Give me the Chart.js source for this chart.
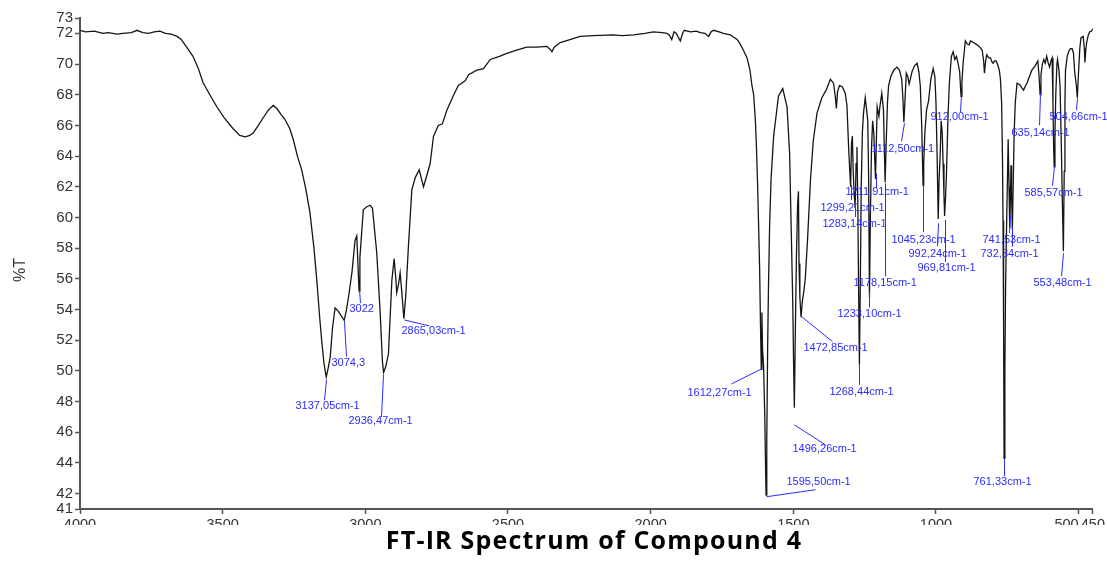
<!DOCTYPE html>
<html>
<head>
<meta charset="utf-8">
<title>FT-IR Spectrum of Compound 4</title>
<script src="https://cdn.jsdelivr.net/npm/chart.js@4.4.0/dist/chart.umd.min.js"></script>
<style>
  html, body { margin: 0; padding: 0; background: #fff; }
  #wrap { position: relative; width: 1107px; height: 562px; overflow: hidden; }
  #myChart { position: absolute; left: 0; top: 0; }
  #titulo {
    position: absolute; left: 594px; top: 527px; transform: translateX(-50%);
    white-space: nowrap; font-family: "Open Sans", sans-serif; font-weight: 700;
    font-size: 25px; line-height: 25px; letter-spacing: 1.2px; color: #000;
  }
</style>
</head>
<body>
<div id="wrap">
  <canvas id="myChart" width="1107" height="525"></canvas>
  <div id="titulo">FT-IR Spectrum of Compound 4</div>
</div>
<script>
// [wavenumber cm-1, %T], one array per region
const ohRegion = [
  [4000, 72.2], [3980, 72.1], [3950, 72.15], [3920, 72.0], [3900, 72.05], [3870, 71.95], [3850, 72.0],
  [3820, 72.05], [3800, 72.2], [3780, 72.05], [3760, 72.0], [3740, 72.1], [3720, 72.15], [3700, 72.0],
  [3680, 71.95], [3660, 71.8], [3645, 71.6], [3630, 71.2], [3604, 70.5], [3585, 69.7], [3569, 68.8],
  [3545, 68.0], [3520, 67.2], [3495, 66.5], [3464, 65.8], [3440, 65.35], [3421, 65.25], [3405, 65.35],
  [3393, 65.5], [3375, 66.0], [3358, 66.5], [3340, 67.0], [3323, 67.3], [3310, 67.1], [3295, 66.7],
  [3282, 66.4], [3265, 65.8], [3252, 65.05], [3238, 64.0], [3223, 63.1], [3208, 61.8], [3194, 60.3],
  [3180, 58.0], [3170, 55.9], [3160, 53.5], [3153, 52.0], [3145, 50.5], [3137, 49.6], [3130, 50.2],
  [3123, 50.9], [3115, 52.8], [3106, 54.1], [3095, 53.9], [3085, 53.6], [3074, 53.3], [3066, 54.0],
  [3059, 54.8], [3047, 56.4], [3036, 58.5], [3030, 58.8], [3026, 57.0], [3022, 55.2], [3019, 57.4],
  [3007, 60.5], [2995, 60.7], [2983, 60.8], [2975, 60.6], [2960, 57.7], [2948, 53.8], [2940, 50.6],
  [2936, 49.9], [2928, 50.3], [2919, 51.1], [2907, 55.9], [2899, 57.3], [2893, 56.0], [2890, 55.1],
  [2884, 55.6], [2878, 56.4], [2872, 55.1], [2865, 53.4], [2858, 55.0], [2849, 58.1], [2837, 61.8],
  [2825, 62.6], [2811, 63.1], [2803, 62.5], [2796, 62.0], [2785, 62.7], [2773, 63.5], [2761, 65.3],
  [2744, 66.0], [2730, 66.1], [2714, 67.0]
];

const midRegion = [
  [2690, 68.0], [2674, 68.6], [2650, 68.9], [2638, 69.3], [2609, 69.6], [2586, 69.7], [2562, 70.3],
  [2530, 70.5], [2504, 70.7], [2470, 70.9], [2434, 71.1], [2400, 71.1], [2364, 71.15], [2352, 70.95],
  [2346, 70.8], [2338, 71.1], [2317, 71.4], [2280, 71.6], [2247, 71.8], [2200, 71.85], [2130, 71.9],
  [2100, 71.85], [2060, 71.9], [2020, 72.0], [1990, 72.1], [1960, 72.05], [1943, 72.0], [1935, 71.9],
  [1926, 71.6], [1918, 72.1], [1910, 72.0], [1896, 71.5], [1888, 72.0], [1882, 72.2], [1860, 72.1],
  [1840, 72.15], [1826, 72.05], [1810, 72.0], [1797, 71.8], [1788, 72.1], [1779, 72.2], [1760, 72.1],
  [1745, 72.0], [1733, 71.95], [1720, 71.9], [1709, 71.75], [1697, 71.6], [1686, 71.3], [1675, 70.9],
  [1662, 70.4], [1652, 69.6], [1645, 68.6]
];

const fingerprintHigh = [
  [1639, 68.0], [1633, 66.35], [1629, 64.5], [1625, 62.0], [1621, 59.0], [1618, 56.6], [1615, 53.0],
  [1612.3, 50.1], [1610, 53.8], [1608, 51.5], [1604, 50.2], [1600, 47.0], [1597, 43.5], [1595.5, 41.9],
  [1593, 45.5], [1590, 51.5], [1587, 55.5], [1583, 59.5], [1578, 62.5], [1569, 65.3], [1552, 67.9],
  [1537, 68.4], [1522, 67.2], [1513, 64.2], [1508, 59.8], [1502, 54.5], [1499, 50.5], [1496.3, 47.6],
  [1493, 52.5], [1489, 57.5], [1485, 60.8], [1482, 61.7], [1480, 57.0], [1477, 54.8], [1472.9, 53.5],
  [1468, 54.6], [1463, 55.2], [1458, 56.0], [1450, 58.6], [1440, 62.4], [1430, 65.0], [1417, 66.8],
  [1400, 67.8], [1385, 68.3], [1370, 69.0], [1359, 68.75], [1353, 67.9], [1349, 67.1], [1345, 68.2],
  [1338, 68.6], [1328, 68.5], [1318, 68.1], [1312, 67.3], [1306, 64.5], [1302, 63.0], [1299.2, 62.0],
  [1296, 64.8], [1293, 65.3], [1290, 63.0], [1287, 61.6], [1283.1, 60.6], [1280, 63.5], [1277, 64.6],
  [1274, 61.0], [1271, 55.0], [1268.4, 50.4], [1265, 56.0], [1262, 62.0], [1258, 65.5], [1254, 66.8],
  [1248, 67.8], [1243, 67.0], [1239, 66.3], [1236, 62.5], [1233.1, 54.8], [1230, 60.0], [1226, 64.5],
  [1222, 66.3], [1218, 65.5], [1214, 63.5], [1211.9, 62.5], [1209, 65.0], [1206, 67.2], [1200, 66.6],
  [1196, 67.3], [1190, 68.1], [1184, 67.0], [1181, 64.5], [1178.2, 62.3], [1175, 64.5], [1170, 67.5],
  [1166, 68.6], [1158, 69.2], [1148, 69.6], [1137, 69.8], [1128, 69.6], [1120, 69.0], [1116, 67.8],
  [1112.5, 66.2], [1109, 67.5], [1104, 69.4], [1099, 69.2], [1094, 68.7], [1090, 69.0], [1084, 69.5],
  [1075, 69.9], [1066, 70.05], [1060, 69.5], [1055, 68.6], [1050, 66.0], [1047, 63.5], [1045.2, 62.1],
  [1043, 63.5], [1039, 65.5], [1033, 67.0], [1026, 67.6], [1018, 69.0], [1010, 69.7], [1004, 69.2]
];

const fingerprintLow = [
  [1000, 67.5], [996, 64.0], [992.2, 59.9], [989, 62.5], [985, 64.2], [982, 66.3], [978, 65.5],
  [975, 63.5], [972, 61.5], [969.8, 60.1], [966, 61.5], [963, 63.0], [958, 66.5], [953, 68.8],
  [946, 70.5], [940, 70.8], [934, 70.3], [928, 70.5], [922, 70.0], [917, 69.5], [914, 68.5],
  [912, 67.9], [909, 68.8], [905, 70.05], [897, 71.5], [890, 71.3], [884, 71.25], [879, 71.5],
  [868, 71.4], [856, 71.25], [846, 71.1], [838, 70.9], [833, 70.2], [830, 69.4], [826, 70.2],
  [822, 70.6], [815, 70.4], [809, 70.4], [803, 70.1], [800, 70.05], [795, 70.2], [789, 70.2],
  [783, 69.9], [778, 69.6], [774, 69.0], [770, 67.5], [767, 64.0], [765, 59.8], [763, 53.0],
  [761.3, 44.3], [758.5, 50.0], [756, 55.5], [753, 59.0], [750, 62.0], [747, 65.1], [744, 62.0],
  [741.5, 59.3], [739, 61.5], [737, 63.4], [735, 61.5], [732.3, 59.2], [729, 62.5], [726, 65.5],
  [722, 67.5], [716, 68.75], [710, 68.7], [704, 68.6], [699, 68.45], [693, 68.3], [687, 68.55],
  [681, 68.75], [672, 69.2], [664, 69.6], [652, 69.9], [643, 70.2], [639, 69.3], [635.1, 68.0],
  [632, 69.3], [627, 70.0], [622, 70.3], [617, 70.05], [612, 70.5], [607, 70.1], [602, 69.8],
  [597, 70.2], [593, 70.4], [590, 67.5], [587.5, 64.5], [585.6, 63.3], [583, 65.5], [580, 68.1],
  [576, 70.0], [574, 70.3], [569, 69.6], [565, 68.5], [561, 65.0], [557, 61.0], [553.5, 57.8],
  [550.5, 63.0], [548, 67.5], [546, 69.6], [540, 70.5], [535, 70.8], [529, 71.0], [523, 71.0],
  [518, 70.7], [514, 69.5], [508, 68.6], [504.7, 67.8], [501, 69.2], [496, 71.0], [492, 71.7],
  [484, 71.8], [480, 71.0], [478, 70.1], [475, 70.9], [472, 71.4], [466, 71.9], [461, 72.1],
  [455, 72.15], [450, 72.3]
];

const xTicks = [4000, 3500, 3000, 2500, 2000, 1500, 1000, 500, 450];
const yTicks = [41, 42, 44, 46, 48, 50, 52, 54, 56, 58, 60, 62, 64, 66, 68, 70, 72, 73];

// peak picks: label, wavenumber, %T where the leader starts
const peakLabels = [
  '3137,05cm-1', '3074,3', '3022', '2936,47cm-1', '2865,03cm-1', '1612,27cm-1', '1595,50cm-1',
  '1496,26cm-1', '1472,85cm-1', '1299,21cm-1', '1283,14cm-1', '1268,44cm-1', '1233,10cm-1',
  '1211,91cm-1', '1178,15cm-1', '1112,50cm-1', '1045,23cm-1', '992,24cm-1', '969,81cm-1',
  '912,00cm-1', '761,33cm-1', '741,53cm-1', '732,34cm-1', '635,14cm-1', '585,57cm-1',
  '553,48cm-1', '504,66cm-1'
];
const peakWn = [
  3137.05, 3074.3, 3022, 2936.47, 2865.03, 1612.27, 1595.50, 1496.26, 1472.85, 1299.21, 1283.14,
  1268.44, 1233.10, 1211.91, 1178.15, 1112.50, 1045.23, 992.24, 969.81, 912.00, 761.33, 741.53,
  732.34, 635.14, 585.57, 553.48, 504.66
];
const peakT = [
  49.41, 53.21, 55.28, 49.74, 53.32, 50.13, 41.8, 46.48, 53.54, 62.12, 61.14, 50.39, 55.17, 62.88,
  62.23, 66.14, 62.12, 59.62, 59.84, 67.99, 44.24, 60.17, 59.4, 68.1, 63.31, 57.67, 67.77
];

// layout of each callout in px from the leader start: [leader dx, leader dy, text dx, text dy]
const calloutLayout = [
  [-2, 20, -31, 26], [2, 35, -13, 41], [1, 13, -10, 19], [-2, 42, -35, 46], [25, 6, -3, 11],
  [-30, 15, -74, 24], [49, -7, 20, -15], [31, 20, -2, 24], [31, 25, 2, 31], [0, 15, -31, 23],
  [0, 17, -33, 24], [0, 20, -30, 27], [0, 16, -32, 22], [0, 15, -31, 19], [0, 93, -32, 100],
  [-3, 18, -33, 26], [0, 47, -32, 55], [-1, 23, -30, 31], [0, 42, -28, 48], [-1, 17, -31, 22],
  [0, 17, -31, 23], [-1, 18, -28, 25], [0, 20, -32, 27], [-1, 32, -29, 40], [-2, 19, -30, 26],
  [-2, 23, -30, 30], [-1, 12, -28, 19]
];

const azul = '#2b2bff';
const eixo = '#555555';
const fonte = '"Liberation Sans", Arial, sans-serif';

const espectro = [...ohRegion, ...midRegion, ...fingerprintHigh, ...fingerprintLow]
  .map(([wn, t]) => ({ x: wn, y: t }));

const calloutPlugin = {
  id: 'callouts',
  afterDatasetsDraw(chart) {
    const { ctx } = chart;
    const x = chart.scales.x;
    const y = chart.scales.y;
    ctx.save();
    ctx.strokeStyle = azul;
    ctx.fillStyle = azul;
    ctx.lineWidth = 1;
    ctx.font = `11px ${fonte}`;
    ctx.textBaseline = 'middle';
    ctx.textAlign = 'left';
    peakWn.forEach((wn, i) => {
      const px = Math.round(x.getPixelForValue(wn)) + 0.5;
      const py = y.getPixelForValue(peakT[i]);
      const c = calloutLayout[i];
      ctx.beginPath();
      ctx.moveTo(px, py);
      ctx.lineTo(px + c[0], py + c[1]);
      ctx.stroke();
      ctx.fillText(peakLabels[i], px + c[2], py + c[3]);
    });
    ctx.restore();

    // y axis title
    ctx.save();
    ctx.translate(21, 270);
    ctx.rotate(-Math.PI / 2);
    ctx.font = `16px ${fonte}`;
    ctx.fillStyle = '#333';
    ctx.textAlign = 'center';
    ctx.textBaseline = 'middle';
    ctx.fillText('%T', 0, 0);
    ctx.restore();
  }
};

const config = {
  type: 'line',
  data: {
    datasets: [{
      label: 'FT-IR',
      data: espectro,
      borderColor: '#151515',
      borderWidth: 1.3,
      pointRadius: 0,
      tension: 0,
      fill: false
    }]
  },
  options: {
    responsive: false,
    animation: false,
    devicePixelRatio: 1,
    layout: { padding: { left: 0, right: 14, top: 18, bottom: 0 } },
    plugins: {
      legend: { display: false },
      tooltip: { enabled: false },
      title: { display: false }
    },
    scales: {
      x: {
        type: 'linear',
        reverse: true,
        min: 450,
        max: 4000,
        afterBuildTicks: (s) => { s.ticks = xTicks.map((v) => ({ value: v })); },
        afterFit: (s) => { s.height = 16; },
        ticks: {
          autoSkip: false,
          maxRotation: 0,
          padding: 2,
          color: '#333',
          font: { family: fonte, size: 14.5 },
          // 500 sits left of its tick in the picture, next to 450
          callback: (v) => (v === 500 ? '500      ' : String(v))
        },
        grid: { drawOnChartArea: false, drawTicks: true, tickLength: 5, tickColor: eixo, tickWidth: 1.5 },
        border: { display: true, color: eixo, width: 2 }
      },
      y: {
        min: 41,
        max: 73,
        afterBuildTicks: (s) => { s.ticks = yTicks.map((v) => ({ value: v })); },
        afterFit: (s) => { s.width = 80; },
        ticks: {
          autoSkip: false,
          padding: 2,
          color: '#333',
          font: { family: fonte, size: 15 },
          callback: (v) => String(v)
        },
        grid: { drawOnChartArea: false, drawTicks: true, tickLength: 5, tickColor: eixo, tickWidth: 1.5 },
        border: { display: true, color: eixo, width: 2 }
      }
    }
  },
  plugins: [calloutPlugin]
};

window.onload = () => {
  new Chart(document.getElementById('myChart'), config);
};
</script>
</body>
</html>
